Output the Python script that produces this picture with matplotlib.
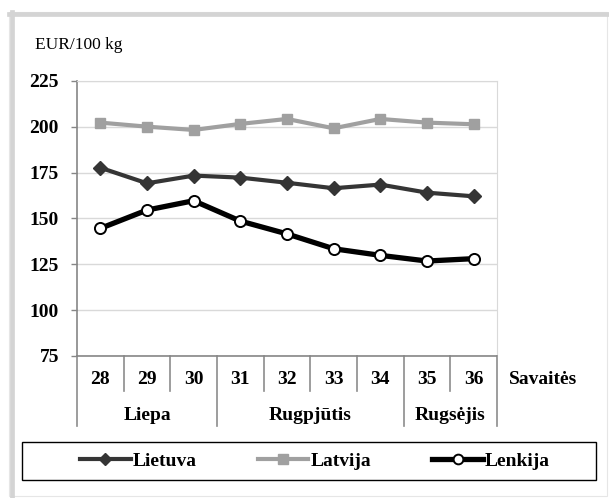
import matplotlib
matplotlib.use("Agg")
import matplotlib.pyplot as plt
from matplotlib.lines import Line2D
from matplotlib.patches import Rectangle

# --- data ---
weeks = ["28", "29", "30", "31", "32", "33", "34", "35", "36"]
months = ["Liepa", "Rugpjūtis", "Rugsėjis"]
month_spans = [3, 4, 2]  # weeks per month

lietuva = [177.7, 169.2, 173.4, 172.3, 169.5, 166.5, 168.5, 164.1, 162.1]
latvija = [202.3, 200.1, 198.3, 201.6, 204.3, 199.2, 204.3, 202.3, 201.4]
lenkija = [144.6, 154.6, 159.7, 148.6, 141.6, 133.5, 129.9, 126.8, 128.1]

plt.rcParams["font.family"] = ["Liberation Serif", "DejaVu Serif"]

W, H = 609, 498
fig = plt.figure(figsize=(W / 100, H / 100), dpi=100)

def px(x0, y0, x1, y1):
    # pixel box (top-left origin) -> figure fraction rect
    return [x0 / W, 1 - y1 / H, (x1 - x0) / W, (y1 - y0) / H]

ax = fig.add_axes(px(77, 81, 497, 356))

x = list(range(len(weeks)))
ax.plot(x, latvija, color="#a0a0a0", lw=3.0, marker="s", ms=7.5,
        mfc="#a0a0a0", mec="#a0a0a0", label="Latvija", zorder=3)
ax.plot(x, lietuva, color="#353535", lw=3.0, marker="D", ms=7,
        mfc="#353535", mec="#353535", label="Lietuva", zorder=3)
ax.plot(x, lenkija, color="black", lw=3.8, marker="o", ms=8,
        mfc="white", mec="black", mew=1.4, label="Lenkija", zorder=4)

ax.set_xlim(-0.5, len(weeks) - 0.5)
ax.set_ylim(75, 225)
ax.set_yticks(range(75, 226, 25))
ax.grid(axis="y", color="#d9d9d9", lw=1)
ax.set_axisbelow(True)
ax.tick_params(axis="y", length=4, width=1, color="#868686", pad=9,
               labelsize=14)
for t in ax.get_yticklabels():
    t.set_fontweight("bold")
ax.set_xticks([])

for s in ["top", "right"]:
    ax.spines[s].set_color("#d9d9d9")
for s in ["left", "bottom"]:
    ax.spines[s].set_color("#868686")
    ax.spines[s].set_linewidth(1.2)

# --- two-level category axis ---
trans = ax.get_xaxis_transform()
ah = 275.0  # axes height in px
short_y = -35 / ah
long_y = -70 / ah
bounds = [0]
for n in month_spans:
    bounds.append(bounds[-1] + n)
for b in range(len(weeks) + 1):
    y_end = long_y if b in bounds else short_y
    ax.add_line(Line2D([b - 0.5, b - 0.5], [0, y_end], transform=trans,
                       color="#8c8c8c", lw=1.2, clip_on=False))

for i, w in enumerate(weeks):
    ax.text(i, -23 / ah, w, transform=trans, ha="center", va="center",
            fontsize=14, fontweight="bold")
for m, a, b in zip(months, bounds[:-1], bounds[1:]):
    ax.text((a + b - 1) / 2, -59 / ah, m, transform=trans, ha="center",
            va="center", fontsize=14, fontweight="bold")
ax.text((543 - 77) / 420, -23 / ah, "Savaitės", transform=ax.transAxes,
        ha="center", va="center", fontsize=14, fontweight="bold")

fig.text(35 / W, 1 - 45 / H, "EUR/100 kg", ha="left", va="center",
         fontsize=12.5)

# --- outer frame ---
fig.add_artist(Rectangle((9 / W, 2 / H), 598 / W, 484 / H,
                         transform=fig.transFigure, fill=False,
                         ec="#e6e6e6", lw=0.8))
fig.add_artist(Line2D([9 / W, 607 / W], [1 - 14.3 / H, 1 - 14.3 / H],
                      transform=fig.transFigure, color="#d4d4d4", lw=3.4))
fig.add_artist(Line2D([11.7 / W, 11.7 / W], [2 / H, 1 - 12 / H],
                      transform=fig.transFigure, color="#d4d4d4", lw=3.4))

# --- legend ---
fig.add_artist(Rectangle((22 / W, 1 - 480 / H), 574 / W, 38.5 / H,
                         transform=fig.transFigure, fill=False,
                         ec="black", lw=1.0))
handles = [
    Line2D([], [], color="#353535", lw=3.0, marker="D", ms=6,
           mfc="#353535", mec="#353535"),
    Line2D([], [], color="#a0a0a0", lw=3.0, marker="s", ms=7.5,
           mfc="#a0a0a0", mec="#a0a0a0"),
    Line2D([], [], color="black", lw=3.8, marker="o", ms=7,
           mfc="white", mec="black", mew=1.4),
]
leg = fig.legend(handles, ["Lietuva", "Latvija", "Lenkija"], ncol=3,
                 loc="center", bbox_to_anchor=(315 / W, 1 - 461 / H),
                 frameon=False, handlelength=2.6, handletextpad=0.1,
                 columnspacing=3.15, prop={"weight": "bold", "size": 14})

fig.savefig("out.png", dpi=100)
